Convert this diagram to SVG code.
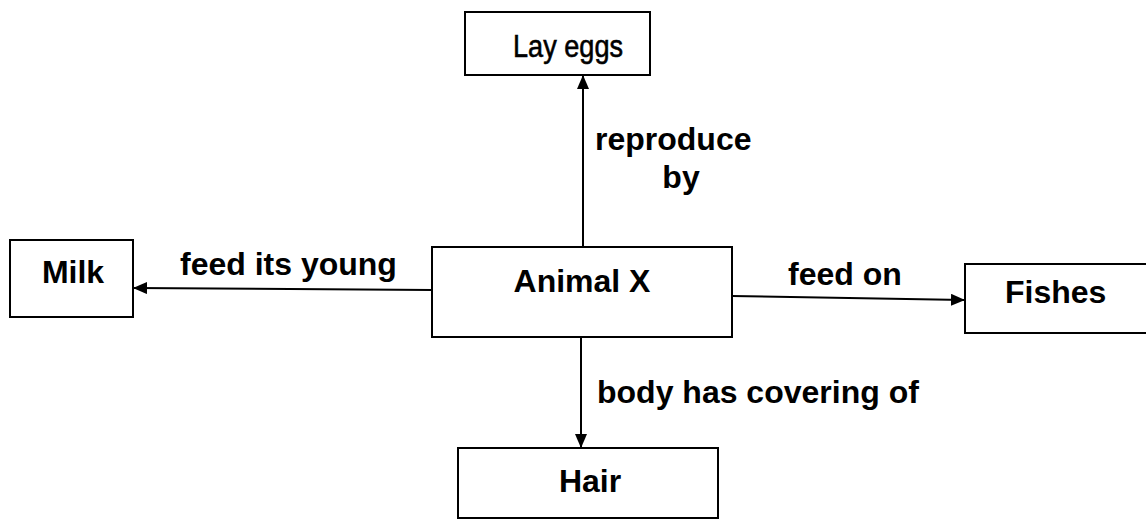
<svg xmlns="http://www.w3.org/2000/svg" width="1146" height="520" viewBox="0 0 1146 520">
<style>
.box{fill:#fff;stroke:#000;stroke-width:2}
.lbl{font-family:"Liberation Sans",Arial,sans-serif;font-weight:bold;font-size:32px;fill:#000}
.edge{stroke:#000;stroke-width:2;fill:none;marker-end:url(#ah)}
</style>
<defs>
<marker id="ah" markerWidth="14" markerHeight="12" refX="13" refY="6" orient="auto" markerUnits="userSpaceOnUse">
<path d="M0,0 L14,6 L0,12 Z" fill="#000"/>
</marker>
</defs>
<rect width="1146" height="520" fill="#fff"/>
<g id="connectors">
<line class="edge" x1="583" y1="247" x2="583" y2="76"/>
<line class="edge" x1="432" y1="290" x2="134" y2="288"/>
<line class="edge" x1="732" y1="296" x2="964" y2="300"/>
<line class="edge" x1="581" y1="337" x2="581" y2="447"/>
<text class="lbl" x="595" y="150">reproduce</text>
<text class="lbl" x="681" y="188" text-anchor="middle">by</text>
<text class="lbl" x="180" y="275">feed its young</text>
<text class="lbl" x="788" y="285">feed on</text>
<text class="lbl" x="597" y="403">body has covering of</text>
</g>
<g id="lay-eggs">
<rect class="box" x="465" y="12" width="185" height="63"/>
<text x="513" y="57" font-family="Liberation Sans, Arial, sans-serif" font-size="32" stroke="#000" stroke-width="0.6" textLength="110" lengthAdjust="spacingAndGlyphs" fill="#000">Lay eggs</text>
</g>
<g id="animal-x">
<rect class="box" x="432" y="247" width="300" height="90"/>
<text class="lbl" x="582" y="292" text-anchor="middle">Animal X</text>
</g>
<g id="milk">
<rect class="box" x="10" y="240" width="123" height="77"/>
<text class="lbl" x="73" y="283" text-anchor="middle">Milk</text>
</g>
<g id="fishes">
<rect class="box" x="965" y="264" width="190" height="69"/>
<text class="lbl" x="1005" y="303">Fishes</text>
</g>
<g id="hair">
<rect class="box" x="458" y="448" width="260" height="70"/>
<text class="lbl" x="590" y="492" text-anchor="middle">Hair</text>
</g>
</svg>
